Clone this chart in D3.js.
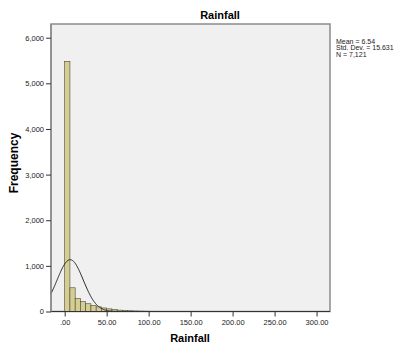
<!DOCTYPE html>
<html>
<head>
<meta charset="utf-8">
<script src="https://cdn.jsdelivr.net/npm/d3@7"></script>
<style>
  body { margin: 0; background: #fff; }
  svg { font-family: "Liberation Sans", Arial, sans-serif; }
</style>
</head>
<body>
<svg></svg>
<script>
// histogram bins (lower edges), width 6.25
const binWidth = 6.25;
const counts = [5480, 520, 285, 215, 170, 135, 102, 78, 58, 42,
                30, 22, 16, 12, 9, 7, 5, 4, 3, 3,
                2, 2, 2, 1, 1, 1, 1, 1, 1, 1,
                0, 1, 0, 1, 0, 0, 1, 0, 0, 0,
                0, 0, 1, 0, 0, 0, 0, 1];
const xTicks = [0, 50, 100, 150, 200, 250, 300];
const yTicks = [0, 1000, 2000, 3000, 4000, 5000, 6000];
const stats = { mean: 6.54, sd: 15.631, n: 7121 };
const statLines = ["Mean = 6.54", "Std. Dev. = 15.631", "N = 7,121"];

window.onload = function() {
    const svg = d3.select("svg")
        .attr("width", 398)
        .attr("height", 349);

    const left = 51, right = 330, top = 24, bottom = 311.5;

    const x = d3.scaleLinear().domain([-16.3, 316]).range([left, right]);
    const y = d3.scaleLinear().domain([0, 6300]).range([bottom, top]);

    // plot background
    svg.append("rect")
        .attr("x", left).attr("y", top)
        .attr("width", right - left).attr("height", bottom - top)
        .attr("fill", "#f0f0f0")
        .attr("stroke", "#8c8c8c")
        .attr("stroke-width", 1.5);

    const bins = counts.map(function(c, i) {
        return { x0: i * binWidth, x1: (i + 1) * binWidth, count: c };
    }).filter(function(b) { return b.count > 0; });

    svg.selectAll("rect.bar")
        .data(bins)
        .join("rect")
        .attr("class", "bar")
        .attr("x", function(d) { return x(d.x0); })
        .attr("width", function(d) { return x(d.x1) - x(d.x0); })
        .attr("y", function(d) { return y(d.count); })
        .attr("height", function(d) { return bottom - y(d.count); })
        .attr("fill", "#d5cd92")
        .attr("stroke", "#4a4a3a")
        .attr("stroke-width", 0.6);

    // normal curve from the stats
    const scale = stats.n * binWidth / (stats.sd * Math.sqrt(2 * Math.PI));
    const curvePts = d3.range(-16.3, 316, 0.5).map(function(v) {
        const z = (v - stats.mean) / stats.sd;
        return [v, scale * Math.exp(-0.5 * z * z)];
    });
    svg.append("path")
        .datum(curvePts)
        .attr("fill", "none")
        .attr("stroke", "#222")
        .attr("stroke-width", 1)
        .attr("d", d3.line()
            .x(function(d) { return x(d[0]); })
            .y(function(d) { return y(d[1]); }));

    // axes
    const xAxis = svg.append("g")
        .attr("transform", "translate(0," + bottom + ")")
        .call(d3.axisBottom(x).tickValues(xTicks).tickSize(5).tickPadding(3)
            .tickFormat(function(d) { return d === 0 ? ".00" : d3.format(".2f")(d); }));
    xAxis.select(".domain").attr("stroke", "#333").attr("stroke-width", 1.2)
        .attr("d", "M" + left + ",0H" + right);
    xAxis.selectAll(".tick line").attr("stroke", "#333");
    xAxis.selectAll("text").attr("font-size", 7.5).attr("fill", "#222")
        .attr("font-family", "Liberation Sans, Arial, sans-serif");

    const yAxis = svg.append("g")
        .attr("transform", "translate(" + left + ",0)")
        .call(d3.axisLeft(y).tickValues(yTicks).tickSize(5).tickPadding(2)
            .tickFormat(d3.format(",")));
    yAxis.select(".domain").attr("stroke", "#8c8c8c").attr("stroke-width", 1.5)
        .attr("d", "M0," + top + "V" + bottom);
    yAxis.selectAll(".tick line").attr("stroke", "#333");
    yAxis.selectAll("text").attr("font-size", 7.5).attr("fill", "#222")
        .attr("font-family", "Liberation Sans, Arial, sans-serif");

    // titles
    svg.append("text")
        .attr("x", 220).attr("y", 19)
        .attr("text-anchor", "middle")
        .attr("font-size", 11).attr("font-weight", "bold")
        .text("Rainfall");

    svg.append("text")
        .attr("x", 190).attr("y", 342)
        .attr("text-anchor", "middle")
        .attr("font-size", 11).attr("font-weight", "bold")
        .text("Rainfall");

    svg.append("text")
        .attr("transform", "translate(18,163) rotate(-90)")
        .attr("text-anchor", "middle")
        .attr("font-size", 12).attr("font-weight", "bold")
        .text("Frequency");

    // stats box
    svg.selectAll("text.stat")
        .data(statLines)
        .join("text")
        .attr("class", "stat")
        .attr("x", 336)
        .attr("y", function(d, i) { return 44 + i * 6.3; })
        .attr("font-size", 7)
        .attr("fill", "#222")
        .text(function(d) { return d; });
};
</script>
</body>
</html>
